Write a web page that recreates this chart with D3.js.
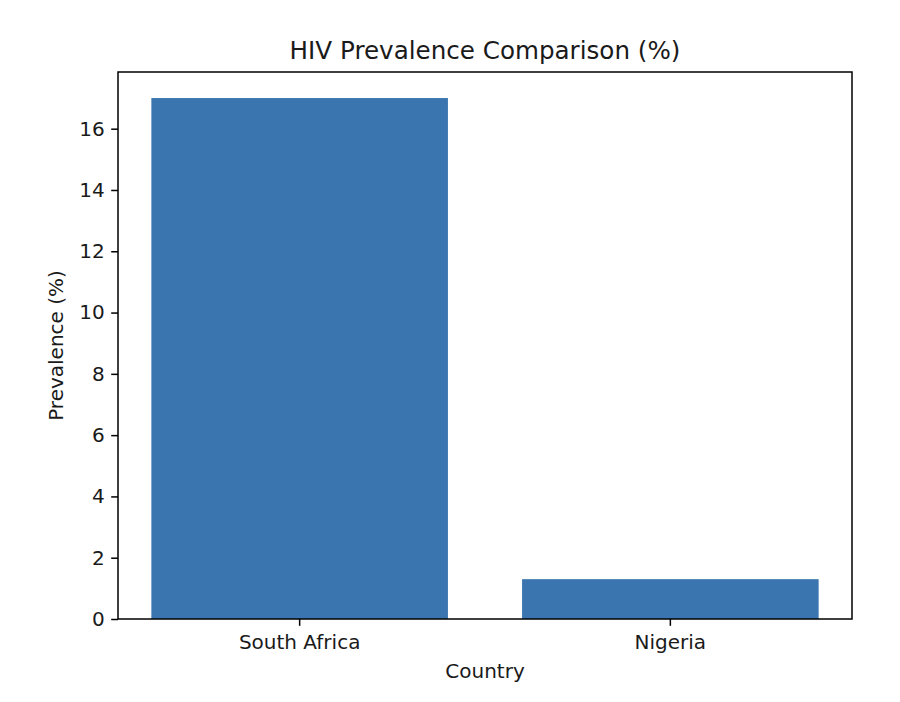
<!DOCTYPE html>
<html lang="en">
<head>
  <meta charset="UTF-8">
  <title>HIV Prevalence Comparison</title>
  <style>
    body { margin: 0; background: #fff; }
    svg text { font-family: "DejaVu Sans", sans-serif; fill: #1a1a1a; }
  </style>
</head>
<body>
  <svg></svg>
  <script src="https://cdn.jsdelivr.net/npm/d3@7"></script>
  <script>
    const countries = ["South Africa", "Nigeria"]
    const prevalence = [17, 1.3]
    const yTicks = [0, 2, 4, 6, 8, 10, 12, 14, 16]

    const width = 900
    const height = 702
    const margin = {top: 72, right: 48, bottom: 83, left: 118}

    const svg = d3.select("svg")
      .attr("width", width)
      .attr("height", height)

    const x = d3.scaleBand()
      .domain(countries)
      .range([margin.left, width - margin.right])
      .paddingInner(0.2)
      .paddingOuter(0.09)

    const y = d3.scaleLinear()
      .domain([0, d3.max(prevalence) * 1.05])
      .range([height - margin.bottom, margin.top])

    // bars
    svg.append("g")
      .selectAll("rect")
      .data(countries)
      .join("rect")
      .attr("x", d => x(d))
      .attr("y", (d, i) => y(prevalence[i]))
      .attr("width", x.bandwidth())
      .attr("height", (d, i) => y(0) - y(prevalence[i]))
      .attr("fill", "#3a75af")

    // frame
    svg.append("rect")
      .attr("x", margin.left)
      .attr("y", margin.top)
      .attr("width", width - margin.left - margin.right)
      .attr("height", height - margin.top - margin.bottom)
      .attr("fill", "none")
      .attr("stroke", "#000")
      .attr("stroke-width", 1.5)

    const tick = 6.8

    const xAxis = svg.append("g")
      .attr("transform", `translate(0, ${height - margin.bottom})`)
      .call(d3.axisBottom(x).tickSizeInner(tick).tickSizeOuter(0).tickPadding(8.5))
    xAxis.select(".domain").remove()

    const yAxis = svg.append("g")
      .attr("transform", `translate(${margin.left}, 0)`)
      .call(d3.axisLeft(y).tickValues(yTicks).tickSizeInner(tick).tickSizeOuter(0).tickPadding(6.5))
    yAxis.select(".domain").remove()

    svg.selectAll(".tick line").attr("stroke", "#000").attr("stroke-width", 1.5)
    svg.selectAll(".tick text")
      .attr("font-family", "DejaVu Sans, sans-serif")
      .attr("font-size", 20)
      .attr("fill", "#1a1a1a")

    // title
    svg.append("text")
      .attr("x", (margin.left + width - margin.right) / 2)
      .attr("y", 59)
      .attr("text-anchor", "middle")
      .attr("font-size", 24.6)
      .text("HIV Prevalence Comparison (%)")

    // x label
    svg.append("text")
      .attr("x", (margin.left + width - margin.right) / 2)
      .attr("y", 678)
      .attr("text-anchor", "middle")
      .attr("font-size", 20)
      .text("Country")

    // y label
    svg.append("text")
      .attr("transform", `translate(63, ${(margin.top + height - margin.bottom) / 2}) rotate(-90)`)
      .attr("text-anchor", "middle")
      .attr("font-size", 20)
      .text("Prevalence (%)")
  </script>
</body>
</html>
